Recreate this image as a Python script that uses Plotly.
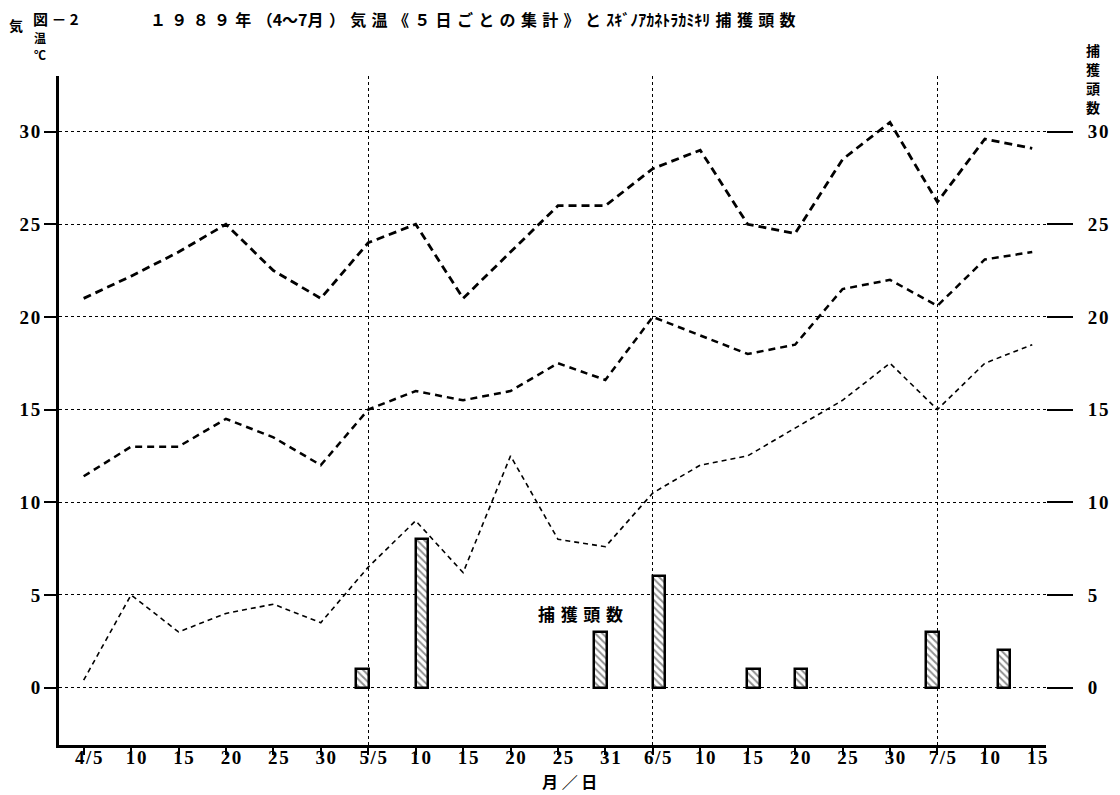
import plotly.graph_objects as go

# ---- data -------------------------------------------------------------
tick_labels = ["4/5", "10", "15", "20", "25", "30", "5/5", "10", "15", "20", "25",
               "31", "6/5", "10", "15", "20", "25", "30", "7/5", "10", "15"]
period_idx = list(range(len(tick_labels)))

temp_max = [21, 22.2, 23.5, 25, 22.5, 21, 24, 25, 21, 23.5, 26, 26,
            28, 29, 25, 24.5, 28.5, 30.5, 26.2, 29.6, 29.1]
temp_mean = [11.4, 13, 13, 14.5, 13.5, 12, 15, 16, 15.5, 16, 17.5, 16.6,
             20, 19, 18, 18.5, 21.5, 22, 20.6, 23.1, 23.5]
temp_min = [0.4, 5, 3, 4, 4.5, 3.5, 6.5, 9, 6.2, 12.5, 8, 7.6,
            10.5, 12, 12.5, 14, 15.5, 17.5, 15, 17.5, 18.5]

# capture counts, positioned on the 5-day period axis
catch_pos = [5.88, 7.13, 10.9, 12.13, 14.12, 15.13, 17.9, 19.41]
catch_count = [1, 8, 3, 6, 1, 1, 3, 2]

y_ticks = [0, 5, 10, 15, 20, 25, 30]
month_starts = [6, 12, 18]

# ---- figure -----------------------------------------------------------
HS = "\u200a"
SP = "\u2004"
def spaced(s, sep):
    return sep.join(list(s))

num_font = dict(family="Liberation Serif, DejaVu Serif, serif",
                size=19, color="black", weight="bold")
cjk = "Noto Sans CJK JP, sans-serif"

fig = go.Figure()

fig.add_trace(go.Bar(
    x=catch_pos, y=catch_count, width=0.26, xaxis="x", yaxis="y2",
    marker=dict(color="white", line=dict(color="black", width=2.5),
                pattern=dict(shape="\\", fgcolor="#222", bgcolor="white",
                             size=5, solidity=0.4)),
    showlegend=False, hoverinfo="skip"))

for vals, w, dash in [(temp_max, 2.8, "8px,5px"),
                      (temp_mean, 2.5, "7px,5px"),
                      (temp_min, 1.6, "5px,4px")]:
    fig.add_trace(go.Scatter(x=period_idx, y=vals, mode="lines",
                             line=dict(color="black", width=w, dash=dash),
                             xaxis="x", yaxis="y", showlegend=False, hoverinfo="skip"))

# invisible trace carrying the month gridline axis
fig.add_trace(go.Scatter(x=month_starts, y=[None] * 3, xaxis="x2", yaxis="y",
                         mode="lines", showlegend=False, hoverinfo="skip"))

xr = [-0.52, 20.29]
yr = [-3.1, 33]

# page body has an 8px margin; figure sized so it fills the 1120x795 window
fig.update_layout(
    width=1112, height=787,
    margin=dict(l=44, r=73, t=68, b=50),
    paper_bgcolor="white", plot_bgcolor="white",
    xaxis=dict(range=xr, tickmode="array", tickvals=period_idx,
               ticktext=[spaced(t, HS) for t in tick_labels],
               ticks="outside", ticklen=7, tickwidth=2, tickcolor="black",
               showline=True, linewidth=2.5, linecolor="black",
               showgrid=False, zeroline=False, tickfont=num_font,
               ticklabelshift=5, ticklabelstandoff=-14),
    xaxis2=dict(range=xr, overlaying="x", side="bottom", tickmode="array",
                tickvals=month_starts, showticklabels=False, ticks="",
                showline=False, showgrid=True, gridcolor="black", gridwidth=1.3,
                griddash="dot", zeroline=False),
    yaxis=dict(range=yr, tickmode="array", tickvals=y_ticks,
               ticktext=[spaced(str(v), HS) for v in y_ticks],
               ticks="outside", ticklen=12, tickwidth=1.5, tickcolor="black",
               showline=True, linewidth=3, linecolor="black",
               showgrid=True, gridcolor="black", gridwidth=1, griddash="dot",
               zeroline=False, tickfont=num_font),
    yaxis2=dict(range=yr, overlaying="y", side="right", tickmode="array",
                tickvals=y_ticks, ticktext=[spaced(str(v), HS) for v in y_ticks],
                ticks="outside", ticklen=26, tickwidth=2, tickcolor="black",
                showline=False, showgrid=False, zeroline=False,
                tickfont=num_font, ticklabelstandoff=11),
    bargap=0,
)

W, H = 995.0, 669.0
def px(x):
    return (x - 52) / W
def py(y):
    return (745 - y) / H

title_main = (spaced("１９８９年（", SP) + "4～7月" + SP + "）" + SP + spaced("気温《５日ごとの集計》と", SP)
              + SP + "ｽｷﾞﾉｱｶﾈﾄﾗｶﾐｷﾘ" + SP + spaced("捕獲頭数", SP))

ann = [
    dict(text="図 － 2", x=px(24), y=py(19), xanchor="left", size=15),
    dict(text=title_main, x=px(142), y=py(19), xanchor="left", size=16),
    dict(text="気", x=px(9), y=py(25), xanchor="center", size=14),
    dict(text="温", x=px(33), y=py(37), xanchor="center", size=12),
    dict(text="℃", x=px(33), y=py(54), xanchor="center", size=12),
    dict(text="捕\u2004獲\u2004頭\u2004数", x=px(578), y=py(613), xanchor="center", size=17),
    dict(text="月 ／ 日", x=px(567), y=py(781), xanchor="center", size=16),
]
# vertical right-axis title, one glyph per line
for i, ch in enumerate("捕獲頭数"):
    ann.append(dict(text=ch, x=px(1094), y=py(50 + 19 * i), xanchor="center", size=14))

for a in ann:
    fig.add_annotation(text=a["text"], x=a["x"], y=a["y"], xref="paper", yref="paper",
                       xanchor=a["xanchor"], yanchor="middle", showarrow=False,
                       font=dict(family=cjk, size=a["size"], color="black", weight="bold"))

fig.write_html("out.html")
